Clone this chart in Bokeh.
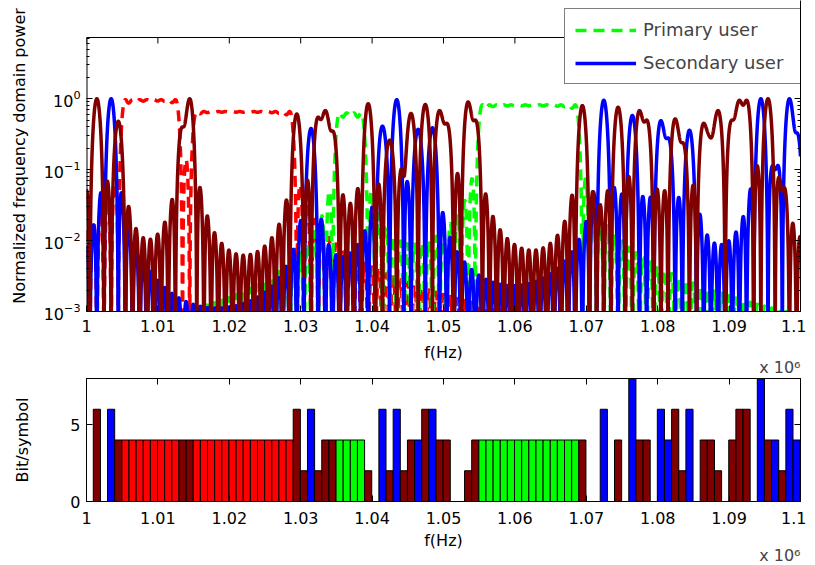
import numpy as np
from bokeh.plotting import figure
from bokeh.layouts import column
from bokeh.models import (Range1d, FixedTicker, LinearAxis, LogAxis, Legend,
                          LegendItem, Title)
from bokeh.embed import file_html
from bokeh.resources import INLINE

# ---------------- data ----------------
SPACING_HZ = 1000          # subcarrier spacing
FIRST_SC_HZ = 1001450      # centre of the first subcarrier

# owner of every subcarrier: B = secondary user 2 (brown), L = secondary user 1 (blue),
# R = primary user 1 (red), G = primary user 2 (green), "-" = unused
owner = ["B", "-", "L", "B",
         "R", "R", "R", "R", "R", "R", "R", "R",
         "B", "B",
         "R", "R", "R", "R", "R", "R", "R", "R", "R", "R", "R", "R", "R", "R",
         "B", "B", "L", "B", "B", "B",
         "G", "G", "G", "G",
         "B", "-", "L", "B", "L", "B", "B", "L", "B", "L", "B", "B", "-", "-", "B", "B",
         "G", "G", "G", "G", "G", "G", "G", "G", "G", "G", "G", "G", "G", "G",
         "B", "-", "-", "L", "-", "B", "-", "L", "B", "B", "-", "L", "L", "B", "B", "L",
         "-", "B", "B", "B", "-", "B", "B", "B", "-", "L", "B", "L", "B", "L", "L"]

bits = [6, 0, 6, 4,
        4, 4, 4, 4, 4, 4, 4, 4,
        4, 4,
        4, 4, 4, 4, 4, 4, 4, 4, 4, 4, 4, 4, 4, 4,
        6, 2, 6, 2, 4, 4,
        4, 4, 4, 4,
        2, 0, 6, 2, 6, 2, 4, 4, 6, 6, 4, 4, 0, 0, 2, 4,
        4, 4, 4, 4, 4, 4, 4, 4, 4, 4, 4, 4, 4, 4,
        4, 0, 0, 6, 0, 4, 0, 8, 4, 4, 0, 6, 4, 6, 2, 6,
        0, 4, 4, 2, 0, 4, 6, 6, 0, 8, 4, 4, 2, 6, 4]

# normalized power of every subcarrier (peak heights in the upper panel)
power = [1.0, 0.0, 1.0, 0.48,
         0.97, 0.97, 0.97, 0.97, 0.97, 0.97, 0.97, 0.97,
         0.40, 1.0,
         0.66, 0.66, 0.66, 0.66, 0.66, 0.66, 0.66, 0.66, 0.66, 0.66, 0.66, 0.66, 0.66, 0.66,
         0.61, 0.003, 0.38, 0.55, 0.68, 0.35,
         0.63, 0.63, 0.63, 0.63,
         0.85, 0.0, 0.41, 0.26, 0.97, 0.08, 0.62, 0.37, 0.83, 0.39, 0.68, 0.45, 0.0, 0.0, 0.90, 0.50,
         0.82, 0.82, 0.82, 0.82, 0.82, 0.82, 0.82, 0.82, 0.82, 0.82, 0.82, 0.82, 0.82, 0.82,
         0.80, 0.0, 0.0, 0.95, 0.0, 0.76, 0.0, 0.58, 0.68, 0.50, 0.0, 0.49, 0.28, 0.52, 0.24, 0.36,
         0.0, 0.45, 0.28, 0.68, 0.0, 0.50, 0.95, 0.95, 0.0, 1.0, 1.0, 0.10, 0.05, 1.0, 0.33]

tick_hz = [1000000, 1010000, 1020000, 1030000, 1040000, 1050000,
           1060000, 1070000, 1080000, 1090000, 1100000]
tick_labels = ["1", "1.01", "1.02", "1.03", "1.04", "1.05",
               "1.06", "1.07", "1.08", "1.09", "1.1"]
power_ticks = [1e-3, 1e-2, 1e-1, 1.0]
power_minor = [m * 10.0 ** e for e in (-3, -2, -1) for m in range(2, 10)] + [2, 3, 4, 5, 6, 7]
bit_ticks = [0, 5]

user_color = {"B": "#800000", "L": "#0000ff", "R": "#ff0000", "G": "#00ff00"}

FONT = "DejaVu Sans"
FS = "16px"

# upper panel geometry: the visible box is 274 px high, but the frame runs 37 px
# higher so that the legend may stick out above the box (as in the reference)
BOX_H, FRAME_H = 274, 311
Y_LO, Y_BOX = 1e-3, 7.3
DEC_PER_PX = np.log10(Y_BOX / Y_LO) / BOX_H
Y_FRAME = Y_LO * 10 ** (DEC_PER_PX * FRAME_H)

sc_freq = np.array([FIRST_SC_HZ + i * SPACING_HZ for i in range(len(owner))], dtype=float)
f = np.linspace(1.0e6, 1.1e6, 8001)


def spectrum(code):
    s = np.zeros_like(f)
    for fi, o, pw in zip(sc_freq, owner, power):
        if o == code:
            s += pw * np.sinc((f - fi) / SPACING_HZ) ** 2
    return np.maximum(s, 1e-9)


def style_axis(ax, hidden=False):
    ax.major_tick_in = 6
    ax.major_tick_out = 0
    ax.minor_tick_in = 3
    ax.minor_tick_out = 0
    ax.axis_line_color = "black"
    ax.major_tick_line_color = "black"
    ax.minor_tick_line_color = "black"
    ax.major_label_text_font = FONT
    ax.axis_label_text_font = FONT
    ax.axis_label_text_font_size = FS
    ax.axis_label_text_font_style = "normal"
    ax.axis_label_text_color = "black"
    if hidden:
        ax.major_label_text_font_size = "1px"
        ax.major_label_text_color = None
        ax.major_label_standoff = 0
    else:
        ax.major_label_text_font_size = FS
        ax.major_label_text_color = "black"


# ---------------- upper panel ----------------
p1 = figure(width=806, height=377, y_axis_type="log",
            x_range=Range1d(tick_hz[0], tick_hz[-1]), y_range=Range1d(Y_LO, Y_FRAME),
            output_backend="svg", toolbar_location=None,
            min_border_left=86, min_border_right=6, min_border_top=0, min_border_bottom=66)
p1.grid.visible = False
p1.outline_line_color = None

r_red = p1.line(f, spectrum("R"), line_color=user_color["R"], line_width=3.5, line_dash="11 7")
r_green = p1.line(f, spectrum("G"), line_color=user_color["G"], line_width=3.5, line_dash="11 7")
r_blue = p1.line(f, spectrum("L"), line_color=user_color["L"], line_width=3.5)
r_brown = p1.line(f, spectrum("B"), line_color=user_color["B"], line_width=3.5)

# box: top edge, left edge and inward top ticks
x0, x1 = tick_hz[0], tick_hz[-1]
p1.segment(x0=[x0], y0=[Y_BOX], x1=[x1], y1=[Y_BOX], line_color="black", line_width=1)
p1.segment(x0=[x0], y0=[Y_LO], x1=[x0], y1=[Y_BOX], line_color="black", line_width=2)
p1.segment(x0=tick_hz, y0=[Y_BOX] * len(tick_hz), x1=tick_hz,
           y1=[Y_BOX / 10 ** (6 * DEC_PER_PX)] * len(tick_hz), line_color="black", line_width=1)

for ax in p1.xaxis + p1.yaxis:
    style_axis(ax)
p1.xaxis.ticker = FixedTicker(ticks=tick_hz)
p1.xaxis.major_label_overrides = dict(zip(tick_hz, tick_labels))
p1.xaxis.axis_label = "f(Hz)"
p1.xaxis.minor_tick_line_color = None
p1.xaxis.major_label_standoff = 8
p1.xaxis.axis_label_standoff = 8
p1.yaxis.ticker = FixedTicker(ticks=power_ticks, minor_ticks=power_minor)
p1.yaxis.axis_label = "Normalized frequency domain power"
p1.yaxis.axis_line_color = None
p1.yaxis.major_label_standoff = 6
p1.yaxis.axis_label_standoff = 12

right1 = LogAxis(ticker=FixedTicker(ticks=power_ticks, minor_ticks=power_minor))
style_axis(right1, hidden=True)
p1.add_layout(right1, "right")

legend = Legend(items=[LegendItem(label="Primary user", renderers=[r_green]),
                       LegendItem(label="Secondary user", renderers=[r_blue])],
                location=(478, 227), border_line_color="black", border_line_width=1,
                background_fill_color="white", background_fill_alpha=1.0,
                label_text_font=FONT, label_text_font_size="18px",
                glyph_width=61, glyph_height=20, label_standoff=7, label_width=148,
                spacing=12, padding=10, margin=0)
p1.add_layout(legend)

p1.add_layout(Title(text="x 10\u2076", align="right", text_font=FONT, text_font_size=FS,
                    text_font_style="normal", standoff=-17), "below")

# ---------------- lower panel ----------------
p2 = figure(width=806, height=186, x_range=Range1d(tick_hz[0], tick_hz[-1]),
            y_range=Range1d(0, 8),
            output_backend="svg", toolbar_location=None,
            min_border_left=86, min_border_right=6, min_border_top=1, min_border_bottom=62)
p2.grid.visible = False
p2.outline_line_color = "black"

used = [i for i in range(len(owner)) if owner[i] != "-"]
p2.vbar(x=[sc_freq[i] for i in used], top=[bits[i] for i in used], width=SPACING_HZ,
        fill_color=[user_color[owner[i]] for i in used], line_color="black", line_width=1)

for ax in p2.xaxis + p2.yaxis:
    style_axis(ax)
p2.xaxis.ticker = FixedTicker(ticks=tick_hz)
p2.xaxis.major_label_overrides = dict(zip(tick_hz, tick_labels))
p2.xaxis.axis_label = "f(Hz)"
p2.xaxis.major_label_standoff = 10
p2.xaxis.axis_label_standoff = 4
p2.yaxis.ticker = FixedTicker(ticks=bit_ticks)
p2.yaxis.axis_label = "Bit/symbol"
p2.yaxis.major_label_standoff = 6
p2.yaxis.axis_label_standoff = 35
top2 = LinearAxis(ticker=FixedTicker(ticks=tick_hz))
right2 = LinearAxis(ticker=FixedTicker(ticks=bit_ticks))
style_axis(top2, hidden=True)
style_axis(right2, hidden=True)
p2.add_layout(top2, "above")
p2.add_layout(right2, "right")
for ax in p2.xaxis + p2.yaxis:
    ax.minor_tick_line_color = None

p2.add_layout(Title(text="x 10\u2076", align="right", text_font=FONT, text_font_size=FS,
                    text_font_style="normal", standoff=-18), "below")

layout = column(p1, p2, spacing=0)
open("out.html", "w").write(file_html(layout, INLINE))
